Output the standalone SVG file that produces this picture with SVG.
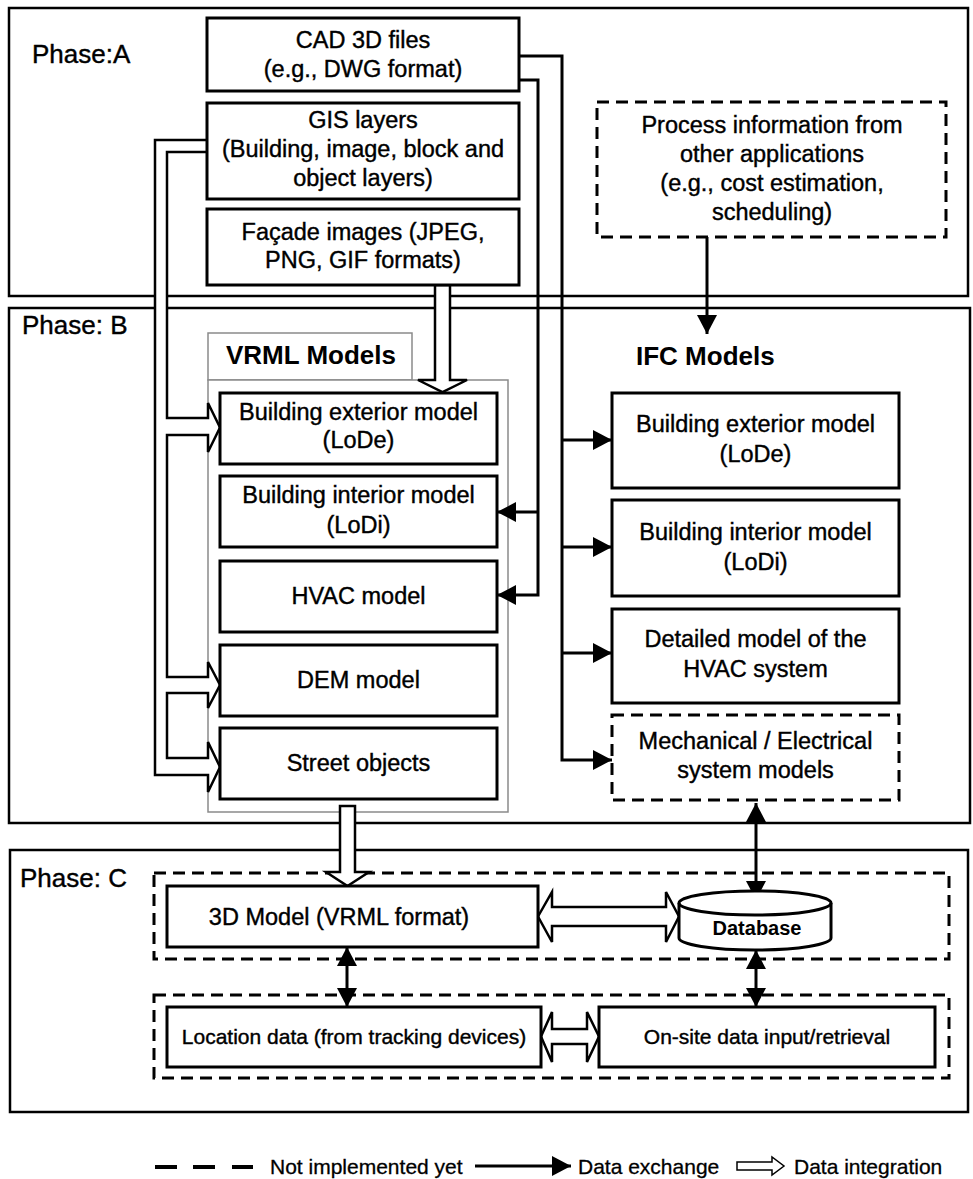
<svg xmlns="http://www.w3.org/2000/svg" width="973" height="1179" viewBox="0 0 973 1179">
<style>
.phase{fill:none;stroke:#000;stroke-width:2.5}
.box{fill:#fff;stroke:#000;stroke-width:3}
.dash{fill:#fff;stroke:#000;stroke-width:3;stroke-dasharray:12 7}
.dashg{fill:none;stroke:#000;stroke-width:3;stroke-dasharray:12 7}
.gray{fill:#fff;stroke:#8a8a8a;stroke-width:1.5}
.t{font-family:"Liberation Sans",Arial,sans-serif;font-size:23.5px;text-anchor:middle;fill:#000;stroke:#000;stroke-width:0.4}
.tc{font-family:"Liberation Sans",Arial,sans-serif;font-size:21px;text-anchor:middle;fill:#000;stroke:#000;stroke-width:0.4}
.lbl{font-family:"Liberation Sans",Arial,sans-serif;font-size:26px;fill:#000;stroke:#000;stroke-width:0.4}
.hd{font-family:"Liberation Sans",Arial,sans-serif;font-size:26px;font-weight:bold;fill:#000}
.lg{font-family:"Liberation Sans",Arial,sans-serif;font-size:21px;fill:#000;stroke:#000;stroke-width:0.3}
.conn{fill:none;stroke:#000;stroke-width:3}
.hollow{fill:#fff;stroke:#000;stroke-width:2.5;stroke-linejoin:miter}
</style>
<defs>
<marker id="ah" markerUnits="userSpaceOnUse" markerWidth="19" markerHeight="20" refX="19" refY="10" orient="auto-start-reverse" viewBox="0 0 19 20">
<path d="M0,0 L19,10 L0,20 Z" fill="#000"/>
</marker>
</defs>

<g id="phases">
<rect class="phase" x="9" y="8" width="959" height="288"/>
<rect class="phase" x="9" y="308" width="961" height="515"/>
<rect class="phase" x="10" y="850" width="958" height="262"/>
<text class="lbl" x="32" y="63">Phase:A</text>
<text class="lbl" x="22" y="334">Phase: B</text>
<text class="lbl" x="20" y="887">Phase: C</text>
</g>

<g id="vrml-group">
<rect class="gray" x="208" y="333" width="204" height="47"/>
<rect class="gray" x="208" y="380" width="300" height="432"/>
<text class="hd" x="226" y="364">VRML Models</text>
</g>
<text class="hd" x="636" y="365">IFC Models</text>

<g id="phasec-groups">
<rect class="dashg" x="154" y="873" width="795" height="86"/>
<rect class="dashg" x="154" y="995" width="795" height="83"/>
</g>

<g id="connectors">
<path class="conn" d="M519,56 H562 V760 H612" marker-end="url(#ah)"/>
<path class="conn" d="M562,440 H612" marker-end="url(#ah)"/>
<path class="conn" d="M562,547 H612" marker-end="url(#ah)"/>
<path class="conn" d="M562,653 H612" marker-end="url(#ah)"/>
<path class="conn" d="M519,80 H538 V595 H497" marker-end="url(#ah)"/>
<path class="conn" d="M538,512 H497" marker-end="url(#ah)"/>
<path class="conn" d="M707,237 V334" marker-end="url(#ah)"/>
<path class="conn" d="M756,803 V900" marker-start="url(#ah)" marker-end="url(#ah)"/>
<path class="conn" d="M347,947 V1007" marker-start="url(#ah)" marker-end="url(#ah)"/>
<path class="conn" d="M756,950 V1007" marker-start="url(#ah)" marker-end="url(#ah)"/>
<path class="hollow" d="M207,140 L155,140 L155,775 L208,775 L208,792 L220,767 L208,742 L208,758 L167,758 L167,693 L208,693 L208,708 L220,685 L208,662 L208,677 L167,677 L167,435 L208,435 L208,452 L220,427.5 L208,403 L208,418 L167,418 L167,152 L207,152"/>
<path class="hollow" d="M435,285 L435,380 L418,380 L442.5,392 L467,380 L450,380 L450,285 Z"/>
<path class="hollow" d="M340,806 L340,872 L326,872 L347.5,886 L369,872 L355,872 L355,806 Z"/>
<path class="hollow" d="M538,916.5 L552,892 L552,907 L666,907 L666,892 L679,916.5 L666,942 L666,926 L552,926 L552,942 Z"/>
<path class="hollow" d="M541,1036.5 L552,1012 L552,1029 L587,1029 L587,1012 L599,1036.5 L587,1062 L587,1044 L552,1044 L552,1062 Z"/>
</g>

<g id="cad">
<rect class="box" x="207" y="18" width="312" height="73"/>
<text class="t" x="363" y="48">CAD 3D files</text>
<text class="t" x="363" y="77">(e.g., DWG format)</text>
</g>
<g id="gis">
<rect class="box" x="207" y="103" width="312" height="96"/>
<text class="t" x="363" y="128">GIS layers</text>
<text class="t" x="363" y="157">(Building, image, block and</text>
<text class="t" x="363" y="186">object layers)</text>
</g>
<g id="facade">
<rect class="box" x="207" y="209" width="312" height="76"/>
<text class="t" x="363" y="240">Façade images (JPEG,</text>
<text class="t" x="363" y="268">PNG, GIF formats)</text>
</g>
<g id="process">
<rect class="dash" x="597" y="102" width="349" height="135"/>
<text class="t" x="772" y="133">Process information from</text>
<text class="t" x="772" y="162">other applications</text>
<text class="t" x="772" y="191">(e.g., cost estimation,</text>
<text class="t" x="772" y="220">scheduling)</text>
</g>

<g id="vrml-ext">
<rect class="box" x="220" y="393" width="277" height="71"/>
<text class="t" x="358.5" y="420">Building exterior model</text>
<text class="t" x="358.5" y="448">(LoDe)</text>
</g>
<g id="vrml-int">
<rect class="box" x="220" y="476" width="277" height="71"/>
<text class="t" x="358.5" y="503">Building interior model</text>
<text class="t" x="358.5" y="533">(LoDi)</text>
</g>
<g id="vrml-hvac">
<rect class="box" x="220" y="561" width="277" height="71"/>
<text class="t" x="358.5" y="604">HVAC model</text>
</g>
<g id="vrml-dem">
<rect class="box" x="220" y="645" width="277" height="71"/>
<text class="t" x="358.5" y="688">DEM model</text>
</g>
<g id="vrml-street">
<rect class="box" x="220" y="728" width="277" height="71"/>
<text class="t" x="358.5" y="771">Street objects</text>
</g>

<g id="ifc-ext">
<rect class="box" x="612" y="393" width="287" height="95"/>
<text class="t" x="755.5" y="432">Building exterior model</text>
<text class="t" x="755.5" y="462">(LoDe)</text>
</g>
<g id="ifc-int">
<rect class="box" x="612" y="500" width="287" height="96"/>
<text class="t" x="755.5" y="540">Building interior model</text>
<text class="t" x="755.5" y="570">(LoDi)</text>
</g>
<g id="ifc-hvac">
<rect class="box" x="612" y="609" width="287" height="94"/>
<text class="t" x="755.5" y="647">Detailed model of the</text>
<text class="t" x="755.5" y="677">HVAC system</text>
</g>
<g id="ifc-mech">
<rect class="dash" x="612" y="715" width="287" height="85"/>
<text class="t" x="755.5" y="749">Mechanical / Electrical</text>
<text class="t" x="755.5" y="778">system models</text>
</g>

<g id="model3d">
<rect class="box" x="167" y="886" width="371" height="61"/>
<text class="tc" x="339" y="925" style="font-size:23.5px">3D Model (VRML format)</text>
</g>
<g id="database">
<path class="box" d="M679,903 A76,12 0 0 1 831,903 L831,938 A76,12 0 0 1 679,938 Z"/>
<path class="conn" d="M679,903 A76,12 0 0 0 831,903"/>
<text class="tc" x="757" y="935" style="font-weight:bold;font-size:20px;stroke-width:0">Database</text>
</g>
<g id="location">
<rect class="box" x="167" y="1007" width="374" height="60"/>
<text class="tc" x="354" y="1044">Location data (from tracking devices)</text>
</g>
<g id="onsite">
<rect class="box" x="599" y="1007" width="336" height="60"/>
<text class="tc" x="767" y="1044">On-site data input/retrieval</text>
</g>

<g id="legend">
<path d="M155,1167 H177 M193,1167 H215 M232,1167 H253" stroke="#000" stroke-width="4" fill="none"/>
<text class="lg" x="270" y="1174">Not implemented yet</text>
<path class="conn" d="M475,1166 H571" marker-end="url(#ah)"/>
<text class="lg" x="578" y="1174">Data exchange</text>
<path class="hollow" style="stroke-width:1.5" d="M737,1162 L772,1162 L772,1157 L784,1166 L772,1175 L772,1170 L737,1170 Z"/>
<text class="lg" x="794" y="1174">Data integration</text>
</g>
</svg>
